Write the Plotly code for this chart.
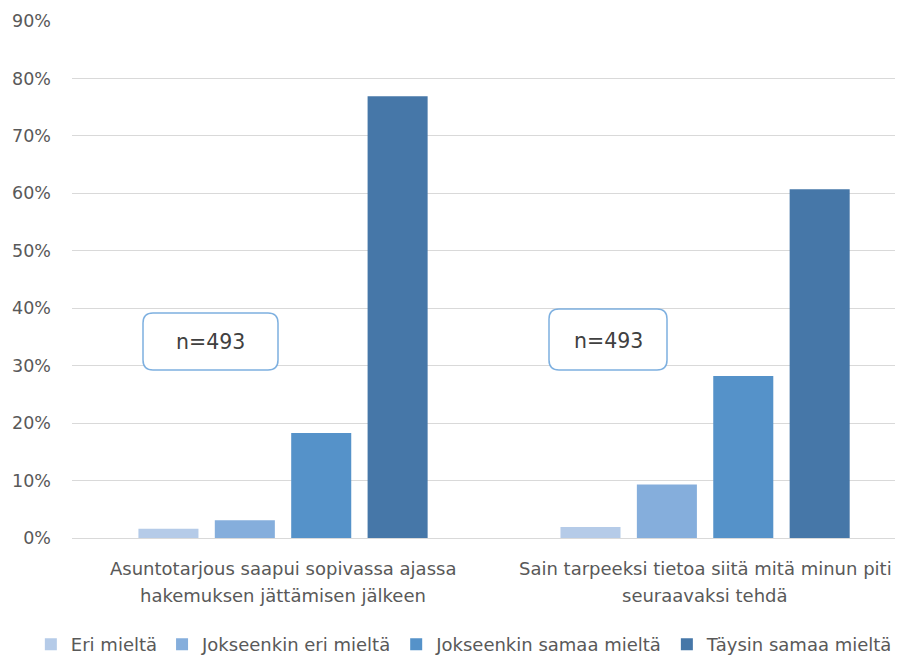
import plotly.graph_objects as go

# Survey statements (x categories), each split into two display lines
statement_lines = [["Asuntotarjous saapui sopivassa ajassa", "hakemuksen jättämisen jälkeen"],
                   ["Sain tarpeeksi tietoa siitä mitä minun piti", "seuraavaksi tehdä"]]

# Response options and their shares (%)
series_names = ["Eri mieltä", "Jokseenkin eri mieltä", "Jokseenkin samaa mieltä", "Täysin samaa mieltä"]
eri_mielta = [1.6, 1.9]
jokseenkin_eri = [3.1, 9.3]
jokseenkin_samaa = [18.3, 28.2]
taysin_samaa = [76.9, 60.7]
series_values = [eri_mielta, jokseenkin_eri, jokseenkin_samaa, taysin_samaa]

sample_label = "n=493"
y_ticks = [0, 10, 20, 30, 40, 50, 60, 70, 80, 90]

colors = ["#B5CBE8", "#85AEDC", "#5592C9", "#4677A8"]
font_family = "'DejaVu Sans', sans-serif"
text_color = "#595959"

fig = go.Figure()
for name, vals, col in zip(series_names, series_values, colors):
    fig.add_trace(go.Bar(
        x=[0, 1], y=vals, name=name,
        marker=dict(color=col, line=dict(width=0)),
    ))

# Two-line category labels under each group
for i, lines in enumerate(statement_lines):
    for j, line in enumerate(lines):
        fig.add_annotation(
            x=i, xref="x", y=0, yref="paper", xanchor="center",
            yshift=-30 - 27 * j, yanchor="middle",
            text=line, showarrow=False,
            font=dict(family=font_family, size=18, color=text_color),
        )

# Rounded boxes holding the sample size
L, R, T, B = 72, 895, 21, 538
W, H = R - L, B - T


def rounded_box(x0, y0, x1, y1, r):
    # pixel coordinates -> paper coordinates
    px = lambda v: (v - L) / W
    py = lambda v: (B - v) / H
    return (f"M {px(x0 + r)} {py(y0)} L {px(x1 - r)} {py(y0)} "
            f"Q {px(x1)} {py(y0)} {px(x1)} {py(y0 + r)} L {px(x1)} {py(y1 - r)} "
            f"Q {px(x1)} {py(y1)} {px(x1 - r)} {py(y1)} L {px(x0 + r)} {py(y1)} "
            f"Q {px(x0)} {py(y1)} {px(x0)} {py(y1 - r)} L {px(x0)} {py(y0 + r)} "
            f"Q {px(x0)} {py(y0)} {px(x0 + r)} {py(y0)} Z")


boxes = [(143, 313, 278, 370), (549, 309, 667, 370)]
for (x0, y0, x1, y1) in boxes:
    fig.add_shape(type="path", xref="paper", yref="paper",
                  path=rounded_box(x0, y0, x1, y1, 10),
                  line=dict(color="#7EB0E0", width=1.5), fillcolor="white", layer="above")
    fig.add_annotation(x=((x0 + x1) / 2 - L) / W, y=(B - (y0 + y1) / 2 - 1) / H,
                       xref="paper", yref="paper", xanchor="center", yanchor="middle",
                       text=sample_label, showarrow=False,
                       font=dict(family=font_family, size=20.5, color="#404040"))

fig.update_layout(
    width=901, height=664,
    margin=dict(l=L, r=901 - R, t=T, b=664 - B, autoexpand=False),
    paper_bgcolor="white", plot_bgcolor="white",
    barmode="group", bargap=0.276, bargroupgap=0.214,
    font=dict(family=font_family, color=text_color),
    showlegend=True,
    legend=dict(orientation="h", x=-0.05, xanchor="left", y=-(664 - B - 1) / H, yanchor="bottom",
                font=dict(size=18, color=text_color), itemwidth=30,
                traceorder="normal"),
    xaxis=dict(range=[-0.5, 1.45], showticklabels=False, showgrid=False,
               zeroline=False, showline=False, ticks=""),
    yaxis=dict(range=[0, 90], tickvals=y_ticks, ticktext=[f"{v}%" for v in y_ticks],
               showgrid=True, gridcolor="#D9D9D9", gridwidth=1,
               zeroline=True, zerolinecolor="#D9D9D9", zerolinewidth=1,
               showline=False, ticks="", ticklabelstandoff=20,
               tickfont=dict(size=17.5, color=text_color)),
)

fig.write_html("out.html")
